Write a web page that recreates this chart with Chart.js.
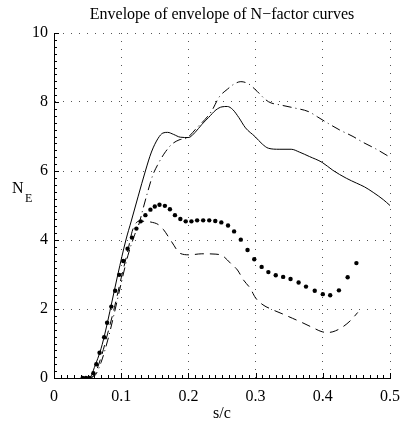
<!DOCTYPE html>
<html>
<head>
<meta charset="utf-8">
<script src="https://cdn.jsdelivr.net/npm/chart.js@4/dist/chart.umd.min.js"></script>
<style>
  html, body { margin: 0; padding: 0; background: #fff; }
  #wrap { width: 409px; height: 426px; }
</style>
</head>
<body>
<div id="wrap"><canvas id="envChart" width="409" height="426"></canvas></div>
<script>
// N-factor envelope data
const sSolid = [0.050, 0.055, 0.060, 0.070, 0.077, 0.085, 0.095, 0.107, 0.115, 0.125, 0.136, 0.145, 0.155, 0.162, 0.169, 0.178, 0.188, 0.200, 0.210, 0.220, 0.230, 0.241, 0.250, 0.258, 0.266, 0.275, 0.285, 0.299, 0.310, 0.319, 0.335, 0.353, 0.365, 0.380, 0.399, 0.415, 0.435, 0.450, 0.462, 0.475, 0.490, 0.500];
const nSolid = [0.00, 0.05, 0.30, 0.85, 1.39, 2.10, 3.00, 4.00, 4.55, 5.25, 6.00, 6.55, 6.95, 7.10, 7.12, 7.06, 6.98, 6.97, 7.12, 7.35, 7.55, 7.77, 7.86, 7.87, 7.78, 7.55, 7.25, 7.00, 6.78, 6.66, 6.63, 6.63, 6.55, 6.42, 6.25, 6.02, 5.79, 5.65, 5.54, 5.38, 5.17, 5.00];

const sDashDot = [0.055, 0.062, 0.070, 0.080, 0.090, 0.100, 0.110, 0.120, 0.127, 0.132, 0.1395, 0.147, 0.154, 0.160, 0.166, 0.175, 0.186, 0.198, 0.212, 0.234, 0.246, 0.258, 0.268, 0.278, 0.290, 0.299, 0.319, 0.338, 0.357, 0.379, 0.392, 0.408, 0.425, 0.445, 0.459, 0.479, 0.500];
const nDashDot = [0.00, 0.10, 0.45, 1.10, 1.90, 2.75, 3.55, 4.15, 4.50, 4.87, 5.40, 5.88, 6.17, 6.38, 6.56, 6.77, 6.90, 6.96, 7.24, 7.72, 8.15, 8.37, 8.52, 8.59, 8.52, 8.37, 8.01, 7.91, 7.83, 7.72, 7.57, 7.38, 7.19, 7.00, 6.84, 6.64, 6.40];

const sDashed = [0.050, 0.060, 0.070, 0.080, 0.090, 0.100, 0.110, 0.117, 0.127, 0.135, 0.144, 0.155, 0.163, 0.175, 0.188, 0.202, 0.220, 0.241, 0.251, 0.263, 0.273, 0.282, 0.292, 0.300, 0.311, 0.324, 0.341, 0.355, 0.370, 0.384, 0.399, 0.408, 0.415, 0.428, 0.441, 0.452];
const nDashed = [0.00, 0.10, 0.60, 1.30, 2.05, 2.90, 3.70, 4.29, 4.55, 4.54, 4.52, 4.45, 4.30, 3.95, 3.61, 3.57, 3.60, 3.59, 3.54, 3.32, 3.13, 2.84, 2.60, 2.32, 2.12, 1.99, 1.85, 1.73, 1.60, 1.47, 1.34, 1.32, 1.34, 1.46, 1.66, 1.90];

const sDots = [0.0426, 0.0475, 0.0523, 0.0586, 0.063, 0.0678, 0.0746, 0.079, 0.0853, 0.091, 0.097, 0.103, 0.1095, 0.116, 0.1226, 0.129, 0.136, 0.1435, 0.150, 0.157, 0.165, 0.1725, 0.180, 0.188, 0.196, 0.2045, 0.213, 0.222, 0.231, 0.240, 0.249, 0.259, 0.268, 0.278, 0.288, 0.298, 0.309, 0.319, 0.330, 0.341, 0.352, 0.364, 0.375, 0.388, 0.400, 0.411, 0.424, 0.437, 0.450];
const nDots = [0.00, 0.00, 0.00, 0.14, 0.40, 0.73, 1.18, 1.60, 2.07, 2.53, 2.99, 3.39, 3.75, 4.07, 4.33, 4.54, 4.72, 4.88, 4.97, 5.02, 4.99, 4.89, 4.72, 4.61, 4.54, 4.54, 4.57, 4.57, 4.57, 4.55, 4.51, 4.42, 4.25, 4.01, 3.71, 3.44, 3.22, 3.07, 2.98, 2.93, 2.87, 2.77, 2.65, 2.53, 2.43, 2.40, 2.54, 2.92, 3.33];

const xTicks = [0, 0.1, 0.2, 0.3, 0.4, 0.5];
const yTicks = [0, 2, 4, 6, 8, 10];

const serif = '"Liberation Serif", "DejaVu Serif", serif';

function pts(xs, ys) {
  return xs.map((x, i) => ({ x: x, y: ys[i] }));
}

// matlab style: inward ticks, minor ticks, text labels drawn by hand
const decorations = {
  id: 'decorations',
  afterDraw(chart) {
    const ctx = chart.ctx;
    const xs = chart.scales.x;
    const ys = chart.scales.y;
    const area = chart.chartArea;
    ctx.save();
    ctx.strokeStyle = '#000';
    ctx.lineWidth = 1;
    ctx.beginPath();
    for (let i = 0; i <= 50; i++) {
      const px = Math.round(xs.getPixelForValue(i / 100)) + 0.5;
      const len = i % 10 === 0 ? 5 : 3;
      ctx.moveTo(px, area.bottom);
      ctx.lineTo(px, area.bottom - len);
    }
    for (let i = 0; i <= 50; i++) {
      const py = Math.round(ys.getPixelForValue(i / 5)) + 0.5;
      const len = i % 10 === 0 ? 5 : 3;
      ctx.moveTo(area.left, py);
      ctx.lineTo(area.left + len, py);
    }
    ctx.stroke();

    ctx.fillStyle = '#000';
    ctx.textAlign = 'center';
    ctx.textBaseline = 'middle';
    ctx.font = '16px ' + serif;
    ctx.fillText('Envelope of envelope of N\u2212factor curves', (area.left + area.right) / 2, 15);
    ctx.fillText('s/c', (area.left + area.right) / 2, 414);
    ctx.textAlign = 'left';
    ctx.fillText('N', 12, 189);
    ctx.font = '12px ' + serif;
    ctx.fillText('E', 25, 199);
    ctx.restore();
  }
};

const ctx = document.getElementById('envChart').getContext('2d');
new Chart(ctx, {
  type: 'line',
  data: {
    datasets: [
      {
        label: 'solid',
        data: pts(sSolid, nSolid),
        borderColor: '#000',
        borderWidth: 1,
        pointRadius: 0,
        cubicInterpolationMode: 'monotone',
      },
      {
        label: 'dash-dot',
        data: pts(sDashDot, nDashDot),
        borderColor: '#000',
        borderWidth: 1,
        borderDash: [9, 4, 1, 4],
        pointRadius: 0,
        cubicInterpolationMode: 'monotone',
      },
      {
        label: 'dashed',
        data: pts(sDashed, nDashed),
        borderColor: '#000',
        borderWidth: 1,
        borderDash: [9, 6],
        pointRadius: 0,
        cubicInterpolationMode: 'monotone',
      },
      {
        label: 'dots',
        data: pts(sDots, nDots),
        showLine: false,
        pointRadius: 2.2,
        pointBackgroundColor: '#000',
        pointBorderColor: '#000',
        pointBorderWidth: 0,
      }
    ]
  },
  options: {
    responsive: false,
    animation: false,
    layout: { padding: { top: 33, right: 11, left: 0, bottom: 0 } },
    plugins: {
      legend: { display: false },
      tooltip: { enabled: false },
      title: { display: false },
    },
    scales: {
      x: {
        type: 'linear',
        min: 0,
        max: 0.5,
        afterFit(scale) { scale.height = 48; },
        afterBuildTicks(scale) { scale.ticks = xTicks.map(v => ({ value: v })); },
        border: { display: true, color: '#000', width: 1, dash: [1, 7] },
        grid: {
          color: '#555',
          lineWidth: 1,
          drawTicks: false,
        },
        ticks: {
          color: '#000',
          padding: 9,
          maxRotation: 0,
          font: { family: serif, size: 16 },
          callback: v => String(v),
        },
      },
      y: {
        min: 0,
        max: 10,
        afterFit(scale) { scale.width = 54; },
        afterBuildTicks(scale) { scale.ticks = yTicks.map(v => ({ value: v })); },
        border: { display: true, color: '#000', width: 1, dash: [1, 7] },
        grid: {
          color: '#555',
          lineWidth: 1,
          drawTicks: false,
        },
        ticks: {
          color: '#000',
          padding: 6,
          font: { family: serif, size: 16 },
        },
      }
    }
  },
  plugins: [decorations]
});
</script>
</body>
</html>
